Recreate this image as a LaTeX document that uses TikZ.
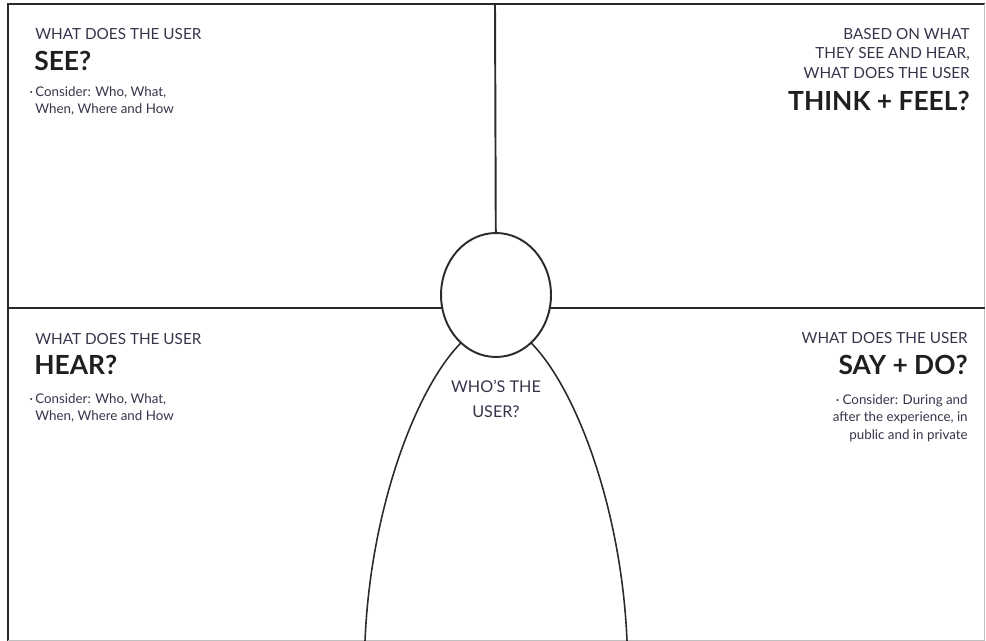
\documentclass[tikz,border=0pt]{standalone}
\usepackage{fontspec}
\setmainfont{Lato}
\usetikzlibrary{shapes.geometric}
\definecolor{asktext}{HTML}{35344A}
\definecolor{rule}{HTML}{2B2B2B}

\begin{document}
\begin{tikzpicture}[x=0.02cm,y=-0.02cm,
  divider/.style={draw=rule,line width=1.1pt},
  ask/.style={font=\fontsize{8.7}{11}\selectfont,text=asktext,inner sep=0pt},
  topic/.style={font=\fontsize{15}{18}\selectfont\bfseries,text=black!88,inner sep=0pt},
  hint/.style={font=\fontsize{7.6}{10}\selectfont,text=asktext,inner sep=0pt},
  who/.style={font=\fontsize{9.2}{14.2}\selectfont,text=asktext,inner sep=0pt,align=center}
]
\useasboundingbox (0,0) rectangle (986,641);

% frame
\draw[rule,line width=1.2pt] (8,641) -- (8,4) -- (985,4);
\draw[black!25,line width=0.5pt] (984.5,4) -- (984.5,640) -- (8,640);

% quadrants
\coordinate (topmid) at (495,4);
\coordinate (leftmid) at (8,308);
\coordinate (rightmid) at (984.5,308);
\coordinate (headc) at (496,295);
\draw[divider] (topmid) -- (headc);
\draw[divider] (leftmid) -- (rightmid);

% body and head
\coordinate (footl) at (365,641);
\coordinate (footr) at (627,641);
\draw[divider,line width=0.9pt] (footl) .. controls (372,472) and (444,324) .. (496,324)
  .. controls (548,324) and (620,472) .. (footr);
\node[ellipse,draw=rule,line width=1.1pt,fill=white,inner sep=0pt,
  minimum width=2.2cm,minimum height=2.48cm] (head) at (headc) {};

% see
\node[ask,anchor=north west] (seeask) at (35,28) {WHAT DOES THE USER};
\node[topic,anchor=north west] (seetopic) at (34,51) {SEE?};
\node[hint,anchor=north west,align=left] (seehint) at (35,86)
  {\llap{·\,}Consider: Who, What,\\When, Where and How};

% think
\node[ask,anchor=north east,align=right] (thinkask) at (970,28)
  {BASED ON WHAT\\THEY SEE AND HEAR,\\WHAT DOES THE USER};
\node[topic,anchor=north east] (thinktopic) at (970,91) {THINK + FEEL?};

% hear
\node[ask,anchor=north west] (hearask) at (35,333) {WHAT DOES THE USER};
\node[topic,anchor=north west] (heartopic) at (34,355) {HEAR?};
\node[hint,anchor=north west,align=left] (hearhint) at (35,393)
  {\llap{·\,}Consider: Who, What,\\When, Where and How};

% say
\node[ask,anchor=north east] (sayask) at (968,332) {WHAT DOES THE USER};
\node[topic,anchor=north east] (saytopic) at (968,355) {SAY + DO?};
\node[hint,anchor=north east,align=right] (sayhint) at (968,394)
  {· Consider: During and\\after the experience, in\\public and in private};

% user
\node[who,anchor=north] (user) at (496,380) {WHO'S THE\\USER?};
\end{tikzpicture}
\end{document}
